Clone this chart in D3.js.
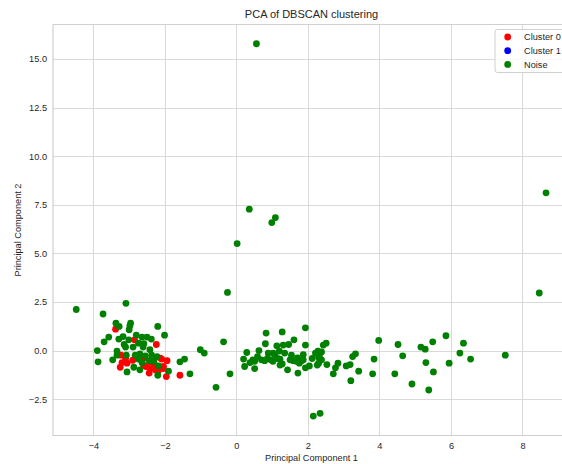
<!DOCTYPE html>
<html>
<head>
<meta charset="utf-8">
<script src="https://cdn.jsdelivr.net/npm/d3@7"></script>
<style>
  html, body { margin: 0; padding: 0; background: #fff; }
  svg { display: block; font-family: "Liberation Sans", Arial, sans-serif; }
</style>
</head>
<body>
<svg id="chart" width="562" height="464"></svg>
<script>
// ---- data ----
const title = "PCA of DBSCAN clustering";
const xLabel = "Principal Component 1";
const yLabel = "Principal Component 2";
const xTicks = [-4, -2, 0, 2, 4, 6, 8];
const yTicks = [-2.5, 0, 2.5, 5, 7.5, 10, 12.5, 15];
const seriesNames = ["Cluster 0", "Cluster 1", "Noise"];
const seriesColors = ["#ff0000", "#0000ff", "#008000"];

const cluster0Points = [
  [-3.38,1.10],[-3.23,-0.24],[-3.20,-0.62],[-3.25,-0.86],[-2.85,0.55],[-2.24,0.31],
  [-2.09,-0.44],[-1.94,-0.52],[-2.53,-0.82],[-2.42,-0.93],[-2.27,-0.99],[-2.05,-0.93],
  [-2.44,-1.16],[-1.96,-1.34],[-1.58,-1.27],[-2.60,-0.75],[-2.19,-1.06],[-2.04,-0.82],
  [-3.06,-0.65],[-2.13,-0.39],[-2.60,-0.40],[-2.90,-0.50],[-2.40,-0.60],[-2.80,-0.30],
  [-3.10,-0.40],[-2.30,-0.70]
];
const cluster1Points = [];
const noisePoints = [
  // left group
  [-4.48,2.11],[-3.09,2.43],[-3.73,1.88],[-3.37,1.41],[-3.28,1.24],[-3.57,0.69],
  [-3.70,0.45],[-3.29,0.59],[-3.17,0.72],[-3.89,0.00],[-3.87,-0.58],[-3.46,-0.48],
  [-3.34,-0.03],[-3.10,0.18],[-3.06,-1.10],[-3.34,-0.24],[-2.96,1.41],[-2.98,1.27],
  [-3.00,1.07],[-2.20,1.24],[-2.01,0.79],[-2.80,0.79],[-2.64,0.69],[-2.50,0.69],
  [-2.38,0.59],[-2.74,0.38],[-2.59,0.35],[-2.89,0.18],[-2.61,0.18],[-2.42,0.04],
  [-3.08,-0.24],[-2.83,-0.24],[-2.70,-0.17],[-2.55,-0.27],[-2.37,-0.24],[-2.22,-0.31],
  [-2.44,-0.52],[-2.31,-0.55],[-2.74,-0.44],[-2.64,-0.62],[-2.18,-0.79],[-1.90,-1.06],
  [-2.87,-0.86],[-2.70,-0.99],[-2.20,-1.27],[-1.30,-1.20],[-1.58,-0.58],[-1.45,-0.44],
  [-3.14,0.31],[-3.01,0.55],
  // scattered
  [-1.01,0.04],[-0.90,-0.13],[-0.36,0.45],[-0.18,-1.20],[-0.57,-1.89],[-0.25,2.99],
  [0.02,5.50],[0.36,7.27],[1.09,6.84],[0.99,6.58],[0.56,15.78],
  // middle group
  [0.20,-0.44],[0.29,-0.10],[0.23,-0.82],[0.38,-0.62],[0.51,-0.93],[0.63,0.00],
  [0.59,-0.31],[0.51,-0.55],[0.70,-0.48],[0.83,0.90],[0.81,0.35],[0.87,-0.41],
  [1.02,-0.55],[1.03,-0.13],[1.13,0.24],[1.20,-0.03],[1.28,0.96],[1.31,0.28],
  [1.35,-0.13],[1.22,-0.44],[1.28,-0.69],[1.43,-0.99],[1.46,0.31],[1.61,0.55],
  [1.54,-0.24],[1.59,-0.52],[1.71,-0.38],[1.72,-1.16],[1.76,-0.65],[1.87,-0.21],
  [1.93,1.17],[1.93,0.28],[1.87,-0.48],[1.93,-0.89],[2.04,-0.79],[2.12,-0.41],
  [2.21,-0.13],[2.28,-0.03],[2.32,-0.31],[2.26,-0.75],[2.38,-0.48],[2.43,0.28],
  [2.51,0.38],[2.53,-0.72],[2.71,-1.20],[2.77,-0.89],[2.84,-0.65],[3.07,-0.79],
  [3.18,-0.72],[3.25,-0.31],[3.33,-0.17],[3.42,-1.06],[3.20,-1.55],[3.85,-0.44],
  [3.81,-1.20],[3.98,0.52],[0.79,-0.52],[0.96,-0.48],[1.15,-0.41],[0.46,-0.48],
  [1.50,-0.48],[1.67,-0.55],[1.82,-0.52],[2.30,-0.34],[2.38,-0.07],[1.22,-0.75],
  [2.30,-0.65],[0.89,-0.13],[1.07,-0.21],
  // right group
  [4.52,0.31],[5.16,0.18],[5.28,0.07],[5.49,0.45],[5.86,0.76],[6.35,0.38],
  [6.25,-0.13],[6.55,-0.44],[7.52,-0.24],[4.65,-0.27],[5.30,-0.62],[5.95,-0.65],
  [4.43,-1.20],[5.51,-1.10],[4.91,-1.72],[5.38,-2.03],[8.47,2.96],[8.66,8.11],
  // bottom
  [2.15,-3.37],[2.34,-3.23]
];
const seriesPoints = [cluster0Points, cluster1Points, noisePoints];

// ---- layout ----
const W = 562, H = 464;
const plot = { left: 53, right: 570, top: 24.5, bottom: 435.5 };
const textColor = "#262626";
const gridColor = "#d9d9d9";
const fontSmall = 9.2;

const svg = d3.select("#chart");

const x = d3.scaleLinear().domain([-5.13, 9.33]).range([plot.left, plot.right]);
const y = d3.scaleLinear().domain([-4.37, 16.77]).range([plot.bottom, plot.top]);

svg.append("rect").attr("x", 0).attr("y", 0).attr("width", W).attr("height", H).attr("fill", "#fff");

// grid
const gx = svg.append("g").attr("transform", `translate(0,${plot.bottom})`)
  .call(d3.axisBottom(x).tickValues(xTicks).tickSize(-(plot.bottom - plot.top)).tickPadding(7)
    .tickFormat(d => d3.format("d")(d).replace("-", "\u2212")));
const gy = svg.append("g").attr("transform", `translate(${plot.left},0)`)
  .call(d3.axisLeft(y).tickValues(yTicks).tickSize(-(plot.right - plot.left)).tickPadding(6)
    .tickFormat(d => d3.format(".1f")(d).replace("-", "\u2212")));
[gx, gy].forEach(g => {
  g.select(".domain").remove();
  g.selectAll(".tick line").attr("stroke", gridColor).attr("stroke-width", 1).attr("shape-rendering", "crispEdges");
  g.selectAll(".tick text").attr("fill", textColor).attr("font-size", fontSmall)
    .attr("font-family", "Liberation Sans, Arial, sans-serif");
});

// spines
const spineColor = "#cfcfcf";
svg.append("line").attr("x1", plot.left).attr("x2", plot.left).attr("y1", plot.top).attr("y2", plot.bottom)
  .attr("stroke", spineColor).attr("stroke-width", 1.2);
svg.append("line").attr("x1", plot.left).attr("x2", plot.right).attr("y1", plot.bottom).attr("y2", plot.bottom)
  .attr("stroke", spineColor).attr("stroke-width", 1.2);
svg.append("line").attr("x1", plot.left).attr("x2", plot.right).attr("y1", plot.top).attr("y2", plot.top)
  .attr("stroke", spineColor).attr("stroke-width", 1.2);

// points
seriesPoints.forEach((pts, i) => {
  svg.append("g").selectAll("circle").data(pts).enter().append("circle")
    .attr("cx", d => x(d[0])).attr("cy", d => y(d[1])).attr("r", 3.4)
    .attr("fill", seriesColors[i]);
});

// title & labels
svg.append("text").attr("x", (plot.left + plot.right) / 2).attr("y", 17.5)
  .attr("text-anchor", "middle").attr("font-size", 11).attr("fill", textColor).text(title);
svg.append("text").attr("x", (plot.left + plot.right) / 2).attr("y", 461)
  .attr("text-anchor", "middle").attr("font-size", fontSmall).attr("fill", textColor).text(xLabel);
svg.append("text").attr("transform", `translate(21,${(plot.top + plot.bottom) / 2}) rotate(-90)`)
  .attr("text-anchor", "middle").attr("font-size", fontSmall).attr("fill", textColor).text(yLabel);

// legend
const lg = svg.append("g");
lg.append("rect").attr("x", 495).attr("y", 29.5).attr("width", 70).attr("height", 43).attr("rx", 2.5)
  .attr("fill", "#fff").attr("fill-opacity", 0.8).attr("stroke", "#d0d0d0").attr("stroke-width", 1);
seriesNames.forEach((name, i) => {
  const ly = 37 + i * 13.7;
  lg.append("circle").attr("cx", 507.7).attr("cy", ly).attr("r", 3.4).attr("fill", seriesColors[i]);
  lg.append("text").attr("x", 524).attr("y", ly).attr("dy", "0.35em").attr("font-size", fontSmall)
    .attr("fill", textColor).text(name);
});
</script>
</body>
</html>
